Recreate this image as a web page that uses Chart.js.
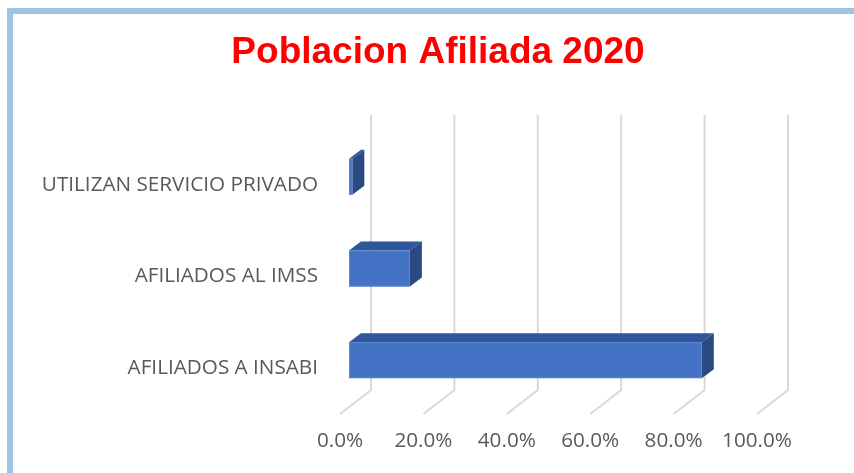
<!DOCTYPE html>
<html>
<head>
<meta charset="utf-8">
<script src="https://cdn.jsdelivr.net/npm/chart.js@4.4.1/dist/chart.umd.min.js"></script>
<style>
  html, body { margin: 0; padding: 0; background: #ffffff; }
  #wrap { width: 854px; height: 473px; position: relative; }
</style>
</head>
<body>
<div id="wrap"><canvas id="grafico" width="854" height="473"></canvas></div>
<script>
// Datos del grafico
const titulo = 'Poblacion Afiliada 2020';
const categorias = ['UTILIZAN SERVICIO PRIVADO', 'AFILIADOS AL IMSS', 'AFILIADOS A INSABI'];
const porcentajes = [0.8, 14.6, 84.6];
const ticksX = [0, 20, 40, 60, 80, 100];

// Profundidad del efecto 3D
const fondoX = 31, fondoY = 24;      // pared del fondo
const caraX = 9, caraY = 8;          // cara frontal de la barra
const profX = 12, profY = 9;         // grosor de la barra

// Marco azul y titulo de la imagen
const marco = {
    id: 'marco',
    beforeDraw(chart) {
        const ctx = chart.ctx;
        ctx.save();
        ctx.fillStyle = '#ffffff';
        ctx.fillRect(0, 0, chart.width, chart.height);
        ctx.fillStyle = '#9dc3e6';
        ctx.fillRect(7, 8, chart.width, 6);
        ctx.fillRect(7, 8, 6, chart.height);

        // titulo centrado sobre el marco
        ctx.fillStyle = '#ff0000';
        ctx.font = 'bold 37px "Liberation Sans", Arial, sans-serif';
        ctx.textAlign = 'center';
        ctx.textBaseline = 'middle';
        ctx.fillText(titulo, 438, 53);
        ctx.restore();
    }
};

// Lineas de la cuadricula en 3D (pared y piso)
const cuadricula3d = {
    id: 'cuadricula3d',
    beforeDatasetsDraw(chart) {
        const ctx = chart.ctx;
        const x = chart.scales.x;
        const area = chart.chartArea;
        ctx.save();
        ctx.strokeStyle = '#d9d9d9';
        ctx.lineWidth = 2;
        ticksX.forEach(v => {
            const xf = x.getPixelForValue(v);
            ctx.beginPath();
            ctx.moveTo(xf + fondoX, area.top - fondoY);
            ctx.lineTo(xf + fondoX, area.bottom - fondoY);
            ctx.lineTo(xf, area.bottom);
            ctx.stroke();
        });
        ctx.restore();
    }
};

// Barras con efecto 3D
const barras3d = {
    id: 'barras3d',
    afterDatasetsDraw(chart) {
        const ctx = chart.ctx;
        const meta = chart.getDatasetMeta(0);
        ctx.save();
        meta.data.forEach(bar => {
            const x0 = bar.base + caraX;
            const x1 = bar.x + caraX;
            const h = bar.height;
            const y0 = bar.y - caraY - h / 2;
            const y1 = y0 + h;

            // cara superior
            ctx.fillStyle = '#2f569a';
            ctx.beginPath();
            ctx.moveTo(x0, y0);
            ctx.lineTo(x0 + profX, y0 - profY);
            ctx.lineTo(x1 + profX, y0 - profY);
            ctx.lineTo(x1, y0);
            ctx.closePath();
            ctx.fill();

            // cara lateral
            ctx.fillStyle = '#2b4a82';
            ctx.beginPath();
            ctx.moveTo(x1, y0);
            ctx.lineTo(x1 + profX, y0 - profY);
            ctx.lineTo(x1 + profX, y1 - profY);
            ctx.lineTo(x1, y1);
            ctx.closePath();
            ctx.fill();

            // cara frontal
            ctx.fillStyle = '#4472c4';
            ctx.fillRect(x0, y0, x1 - x0, h);
            ctx.strokeStyle = '#5b86d0';
            ctx.lineWidth = 1;
            ctx.strokeRect(x0 + 0.5, y0 + 0.5, x1 - x0 - 1, h - 1);
        });
        ctx.restore();
    }
};

const ctx = document.getElementById('grafico').getContext('2d');
const chart = new Chart(ctx, {
    type: 'bar',
    data: {
        labels: categorias,
        datasets: [{
            data: porcentajes,
            backgroundColor: 'rgba(0,0,0,0)',
            borderWidth: 0,
            barThickness: 36
        }]
    },
    options: {
        indexAxis: 'y',
        responsive: false,
        animation: false,
        layout: { padding: { left: 0, right: 97, top: 139, bottom: 0 } },
        plugins: {
            legend: { display: false },
            tooltip: { enabled: false },
            title: { display: false }
        },
        scales: {
            x: {
                min: 0,
                max: 100,
                afterFit(scale) { scale.height = 59; },
                afterBuildTicks(scale) { scale.ticks = ticksX.map(v => ({ value: v })); },
                grid: { display: false, drawTicks: false },
                border: { display: false },
                ticks: {
                    color: '#595959',
                    padding: 15,
                    font: { family: 'Open Sans', size: 20.7 },
                    callback: v => v.toFixed(1) + '%'
                }
            },
            y: {
                afterFit(scale) { scale.width = 340; },
                grid: { display: false, drawTicks: false },
                border: { display: false },
                ticks: {
                    color: '#595959',
                    padding: 22,
                    font: { family: 'Open Sans', size: 20.7 }
                }
            }
        }
    },
    plugins: [marco, cuadricula3d, barras3d]
});
</script>
</body>
</html>
